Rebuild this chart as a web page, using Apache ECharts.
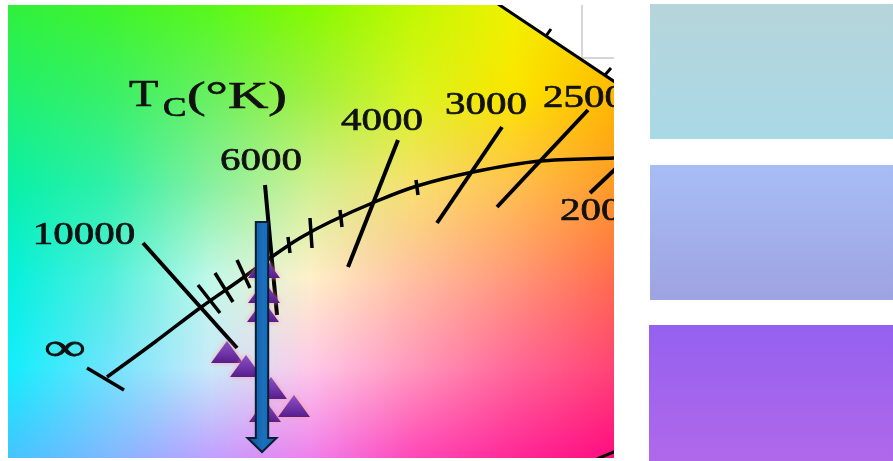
<!DOCTYPE html>
<html><head><meta charset="utf-8">
<script src="https://cdn.jsdelivr.net/npm/echarts@6/dist/echarts.min.js"></script>
<style>html,body{margin:0;padding:0;background:#fff;overflow:hidden}#c{width:893px;height:461px}</style>
</head><body><div id="c"></div>
<script>
// ---- data (chart units of the diagram crop) ----
const locus = [[107,377],[155,342],[200,308],[240,280],[273,256],[300,238],[330,222],[377,201],[417,186],[473,172],[540,161],[614,158],[640,157]];
const isoTemps = ['10000','6000','4000','3000','2500','2000'];
const isotherms = [[143,243,237,348],[265,185,277,315],[398,140,348,267],[502,127,437,223],[588,110,497,207],[625,160,590,193]];
const isoLabelAt = [[84,236],[261,162],[382,122],[486,106],[584,99],[601,212]];
const minorTicks = [[198,285,220,313],[215,273,233,302],[237,260,250,288],[288,237,290,253],[310,218,312,248],[340,210,342,227],[416,180,418,195]];
const locusCap = [[87,368,124,390]];
const spectralEdge = [[498,4,618,84],[546,36,551,29],[605,75,611,68],[597,459,616,451]];
const samples = [[264,267],[264,292],[263,311],[227,352],[246,366],[265,411],[271,388],[294,406]];
const shiftArrow = [[262,222,452]];
const swatchColors = [['#b6d5db','#a9d9e6'],['#a7bdf6','#9ea3e1'],['#9461ef','#b068ea']];

// ---- background colour field (style only) ----
const gx=[8,109,210,311,412,513,614], gy=[5,95.6,186.2,276.8,367.4,458];
const gc=[
 ['#30f03c','#40f42c','#58f81a','#84fa00','#c0f800','#f0f200','#ffd000'],
 ['#20f070','#38f068','#68f060','#a0f040','#d8f420','#fce400','#ffb800'],
 ['#08f0a8','#30f0a8','#88f0a0','#d0f090','#f8e070','#ffc050','#ff9a28'],
 ['#04f0dc','#50f0dc','#c0f8e8','#fff0c8','#ffc0a0','#ff9878','#ff6c4c'],
 ['#10eefc','#70e4fc','#c8eafa','#ffc8e8','#ff98bc','#ff6898','#ff4474'],
 ['#44c4ff','#80b8ff','#c0a0ff','#f080ec','#ff48b8','#ff2898','#ff0c80']];
function h2r(h){return [parseInt(h.slice(1,3),16),parseInt(h.slice(3,5),16),parseInt(h.slice(5,7),16)];}
const gcr=gc.map(r=>r.map(h2r));
function rowCol(x,j){let i=0;while(i<gx.length-2&&x>gx[i+1])i++;const t=Math.max(0,Math.min(1,(x-gx[i])/(gx[i+1]-gx[i])));const a=gcr[j][i],b=gcr[j][i+1];return 'rgb('+a.map((v,k)=>Math.round(v+(b[k]-v)*t)).join(',')+')';}
const graphics=[];
for(let x=8;x<614;x+=2){
  const stops=gy.map((y,j)=>({offset:(y-5)/453,color:rowCol(x+1,j)}));
  graphics.push({type:'rect',silent:true,z:0,shape:{x:x,y:5,width:2.6,height:453},style:{fill:{type:'linear',x:0,y:0,x2:0,y2:1,colorStops:stops}}});
}
graphics.push({type:'polygon',silent:true,z:1,shape:{points:[[499,3],[616,3],[616,83]]},style:{fill:'#fff'}});
graphics.push({type:'line',silent:true,z:1,shape:{x1:582,y1:5,x2:582,y2:58},style:{stroke:'#c8c8c8',lineWidth:1.5}});
graphics.push({type:'line',silent:true,z:1,shape:{x1:582,y1:58,x2:614,y2:58},style:{stroke:'#c8c8c8',lineWidth:1.5}});
graphics.push({type:'rect',silent:true,z:50,shape:{x:614,y:0,width:35,height:461},style:{fill:'#fff'}});
const swBox=[[650,4,243,135],[650,165,243,135],[649,325,244,136]];
swatchColors.forEach((c,i)=>{graphics.push({type:'rect',silent:true,z:51,shape:{x:swBox[i][0],y:swBox[i][1],width:swBox[i][2],height:swBox[i][3]},style:{fill:{type:'linear',x:0,y:0,x2:0,y2:1,colorStops:[{offset:0,color:c[0]},{offset:1,color:c[1]}]}}});});
const serif='"Liberation Serif","DejaVu Serif",serif';
const ink={fill:'#111',stroke:'#111',lineWidth:0.7};
graphics.push({type:'text',silent:true,z:60,x:129,y:96,scaleX:1.3,style:Object.assign({text:'T',font:'37px '+serif,verticalAlign:'middle'},ink)});
graphics.push({type:'text',silent:true,z:60,x:163,y:109,scaleX:1.3,style:Object.assign({text:'C',font:'27px '+serif,verticalAlign:'middle'},ink)});
graphics.push({type:'text',silent:true,z:60,x:187,y:98,scaleX:1.47,style:Object.assign({text:'(°K)',font:'38px '+serif,verticalAlign:'middle'},ink)});
graphics.push({type:'text',silent:true,z:60,x:65,y:350,scaleX:1.55,style:Object.assign({text:'∞',font:'38px '+serif,align:'center',verticalAlign:'middle'},ink)});

function segSeries(data,w){
  return {type:'custom',clip:true,silent:true,z:3,data:data,encode:{x:[0,2],y:[1,3]},
    renderItem:function(p,api){const a=api.coord([api.value(0),api.value(1)]),b=api.coord([api.value(2),api.value(3)]);
      return {type:'line',shape:{x1:a[0],y1:a[1],x2:b[0],y2:b[1]},style:{stroke:'#000',lineWidth:w,lineCap:'butt'}};}};
}

const chart=echarts.init(document.getElementById('c'),null,{renderer:'canvas'});
chart.setOption({
  animation:false,
  grid:{left:8,top:5,width:606,height:453},
  xAxis:{type:'value',min:8,max:614,show:false},
  yAxis:{type:'value',min:5,max:458,inverse:true,show:false},
  graphic:{elements:graphics},
  series:[
    {type:'line',data:locus,smooth:0.3,symbol:'none',silent:true,clip:true,z:3,lineStyle:{color:'#000',width:3.5}},
    segSeries(isotherms,4),
    segSeries(minorTicks,3.5),
    segSeries(locusCap,3.5),
    segSeries(spectralEdge,3),
    {type:'scatter',data:samples,symbol:'triangle',symbolSize:[32,22],silent:true,z:4,
      itemStyle:{opacity:1,color:{type:'linear',x:0,y:0,x2:0,y2:1,colorStops:[{offset:0,color:'#8d52c6'},{offset:1,color:'#581d8c'}]},shadowBlur:5,shadowColor:'rgba(255,150,150,0.85)'}},
    {type:'custom',silent:true,z:5,data:shiftArrow,encode:{x:0,y:[1,2]},
      renderItem:function(p,api){const t=api.coord([api.value(0),api.value(1)]),b=api.coord([api.value(0),api.value(2)]);
        const x=t[0],hw=6.2,hh=14.5,hl=14;
        const pts=[[x-hw,t[1]],[x+hw,t[1]],[x+hw,b[1]-hl],[x+hh,b[1]-hl],[x,b[1]],[x-hh,b[1]-hl],[x-hw,b[1]-hl]];
        return {type:'polygon',shape:{points:pts},style:{fill:{type:'linear',x:0,y:0,x2:1,y2:0,colorStops:[{offset:0,color:'#0f4f8f'},{offset:0.55,color:'#1a70bd'},{offset:1,color:'#155fa5'}]},stroke:'#0a1d33',lineWidth:2}};}},
    {type:'custom',silent:true,clip:true,z:6,data:isoLabelAt,encode:{x:0,y:1},
      renderItem:function(p,api){const c=api.coord([api.value(0),api.value(1)]);
        return {type:'text',x:c[0],y:c[1],scaleX:1.28,style:{text:isoTemps[p.dataIndex],font:'32px '+serif,fill:'#111',stroke:'#111',lineWidth:0.7,align:'center',verticalAlign:'middle'}};}}
  ]
});
</script></body></html>
